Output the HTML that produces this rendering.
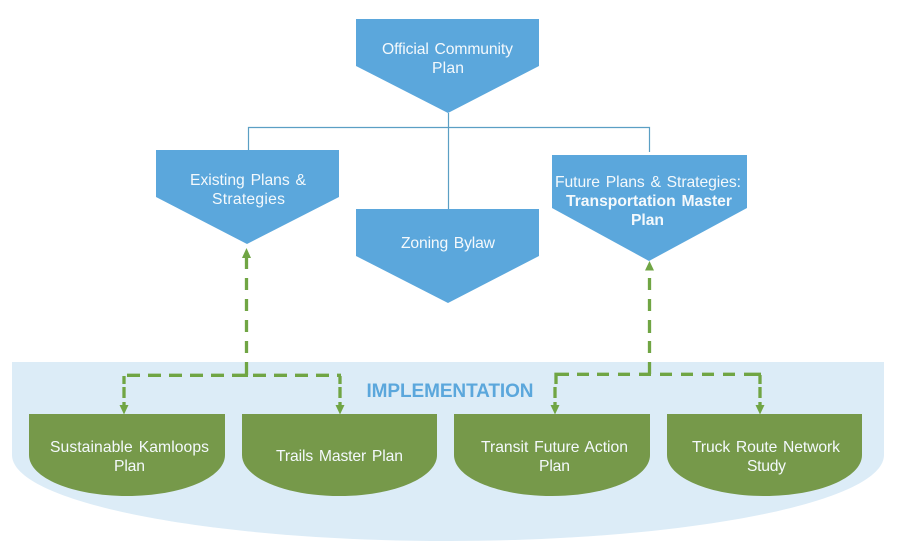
<!DOCTYPE html>
<html>
<head>
<meta charset="utf-8">
<style>
html,body{margin:0;padding:0;background:#fff;width:900px;height:553px;overflow:hidden}
svg{display:block}
text{font-family:"Liberation Sans",sans-serif;font-size:15.7px;fill:#f4f9fc;text-anchor:start}
.w{word-spacing:1.5px}
</style>
</head>
<body>
<svg width="900" height="553" viewBox="0 0 900 553" xmlns="http://www.w3.org/2000/svg">
<path d="M12 362H884V455C884 502 689 541 448 541C207 541 12 502 12 455Z" fill="#dcecf7"/>
<path d="M248.500 150V127.500H649.500V152M448.500 113V209" fill="none" stroke="#5b9fc4" stroke-width="1.200"/>
<polygon points="356,19 539,19 539,66 448,113 356,66" fill="#5ba7dc"/>
<polygon points="156,150 339,150 339,197 247,244 156,197" fill="#5ba7dc"/>
<polygon points="356,209 539,209 539,256 448,303 356,256" fill="#5ba7dc"/>
<polygon points="552,155 747,155 747,208 649,261 552,208" fill="#5ba7dc"/>
<path d="M29 414H225V455C225 478 181 496 127 496C73 496 29 478 29 455Z" fill="#76994a"/>
<path d="M242 414H437V455C437 478 393 496 339.500 496C286 496 242 478 242 455Z" fill="#76994a"/>
<path d="M454 414H650V455C650 478 606 496 552 496C498 496 454 478 454 455Z" fill="#76994a"/>
<path d="M667 414H862V455C862 478 818 496 764.500 496C711 496 667 478 667 455Z" fill="#76994a"/>
<g fill="none" stroke="#70a544" stroke-width="3.300">
<path d="M246.500 258V269M246.500 278V290M246.500 299V311M246.500 320V332M246.500 341V353M246.500 362V375"/>
<path d="M127 375.300H140M148 375.300H161M169 375.300H182M190 375.300H203M211 375.300H224M232 375.300H248M253 375.300H266M274 375.300H287M295 375.300H308M316 375.300H329M337 375.300H341"/>
<path d="M124 376V384M124 387V398M124 402V408"/>
<path d="M340 376V384M340 387V398M340 402V408"/>
<path d="M649.500 278V290M649.500 299V311M649.500 320V333M649.500 341V353M649.500 362V374"/>
<path d="M569 374.300H556V384M577 374.300H589M597 374.300H609M618 374.300H630M639 374.300H651M660 374.300H672M681 374.300H693M702 374.300H714M723 374.300H735M744 374.300H761"/>
<path d="M555 387V398M555 402V408"/>
<path d="M760 375V384M760 387V398M760 402V408"/>
</g>
<g fill="#70a544">
<polygon points="246.500,248 242,258 251,258"/>
<polygon points="649.500,261 645,270.500 654,270.500"/>
<polygon points="124,414.500 119.500,405 128.500,405"/>
<polygon points="340,414.500 335.500,405 344.500,405"/>
<polygon points="555,414.500 550.500,405 559.500,405"/>
<polygon points="760,414.500 755.500,405 764.500,405"/>
</g>
<text class="w" x="382" y="54" textLength="131">Official Community</text>
<text x="432" y="73" textLength="32">Plan</text>
<text class="w" x="190" y="185" textLength="116">Existing Plans &amp;</text>
<text x="212" y="204" textLength="73">Strategies</text>
<text class="w" x="401" y="248" textLength="94">Zoning Bylaw</text>
<text class="w" x="555" y="187" textLength="186">Future Plans &amp; Strategies:</text>
<text class="w" x="566" y="206" textLength="166" font-weight="bold">Transportation Master</text>
<text x="631" y="225" textLength="33" font-weight="bold">Plan</text>
<text class="w" x="50" y="452" textLength="159">Sustainable Kamloops</text>
<text x="114" y="471" textLength="31">Plan</text>
<text class="w" x="276" y="461" textLength="127">Trails Master Plan</text>
<text class="w" x="481" y="452" textLength="147">Transit Future Action</text>
<text x="539" y="471" textLength="31">Plan</text>
<text class="w" x="692" y="452" textLength="148">Truck Route Network</text>
<text x="747" y="471" textLength="39">Study</text>
<text x="366.500" y="397" textLength="167" font-weight="bold" style="font-size:19px;fill:#5ba7dc">IMPLEMENTATION</text>
</svg>
</body>
</html>
